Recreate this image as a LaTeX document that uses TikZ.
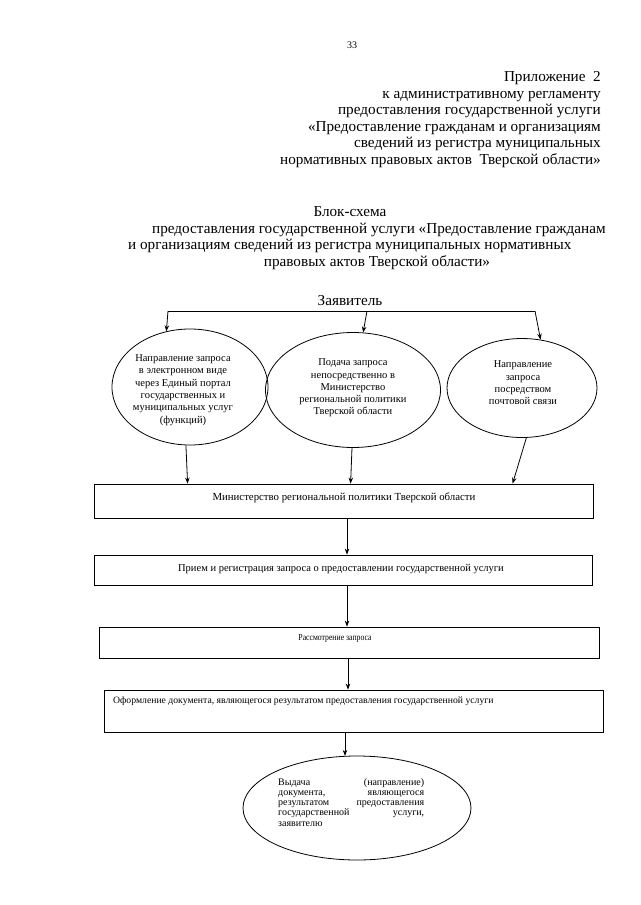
\documentclass[tikz,border=0pt]{standalone}
\usepackage{fontspec}
\usepackage{graphicx}
\setmainfont{Liberation Serif}
\usetikzlibrary{arrows.meta,shapes.geometric,calc}
\begin{document}
\begin{tikzpicture}[x=1pt,y=-1pt,
  hdr/.style={font=\fontsize{15.2}{16.6}\selectfont, inner sep=0pt},
  pagenum/.style={font=\fontsize{10}{12}\selectfont, inner sep=0pt},
  dtext/.style={font=\fontsize{10.5}{12.3}\selectfont, inner sep=0pt, align=center},
  btext/.style={font=\fontsize{10.5}{12.3}\selectfont, inner sep=0pt},
  oval/.style={draw, ellipse, inner sep=0pt, line width=0.8pt},
  stepbox/.style={draw, rectangle, inner sep=0pt, line width=0.8pt},
  conn/.style={line width=0.8pt},
  arr/.style={-{Stealth[length=6pt,width=4.5pt]}, line width=0.8pt}]
\fill[white] (0,0) rectangle (640,905);
\useasboundingbox (0,0) rectangle (640,905);

% page number and header
\node[pagenum, anchor=base] (pn) at (352,48) {33};
\node[hdr, anchor=base east] (h1) at (601,81) {Приложение~ 2};
\node[hdr, anchor=base east] (h2) at (601,98) {к административному регламенту};
\node[hdr, anchor=base east] (h3) at (601,114.5) {предоставления государственной услуги};
\node[hdr, anchor=base east] (h4) at (601,131) {«Предоставление гражданам и организациям};
\node[hdr, anchor=base east] (h5) at (601,147.5) {сведений из регистра муниципальных};
\node[hdr, anchor=base east] (h6) at (601,164.5) {нормативных правовых актов~ Тверской области»};

% title
\node[hdr, anchor=base] (t1) at (350,216) {Блок-схема};
\node[hdr, anchor=base west] (t2) at (152,233) {предоставления государственной услуги «Предоставление гражданам};
\node[hdr, anchor=base west] (t3) at (128,249) {и организациям сведений из регистра муниципальных нормативных};
\node[hdr, anchor=base] (t4) at (377,266) {правовых актов Тверской области»};

\node[hdr, anchor=base] (zv) at (350,305) {Заявитель};

% ellipses
\node[oval, minimum width=156pt, minimum height=116pt] (e1) at (190,387) {};
\node[oval, minimum width=175pt, minimum height=115pt] (e2) at (353,390) {};
\node[oval, minimum width=150pt, minimum height=99pt] (e3) at (522,388) {};

\node[dtext] (e1t) at (183,390) {Направление запроса\\в электронном виде\\через Единый портал\\государственных и\\муниципальных услуг\\(функций)};
\node[dtext] (e2t) at (353,388) {Подача запроса\\непосредственно в\\Министерство\\региональной политики\\Тверской области};
\node[dtext] (e3t) at (523,383) {Направление\\запроса\\посредством\\почтовой связи};

% boxes
\node[stepbox, minimum width=499pt, minimum height=34pt] (b1) at (343.5,501) {};
\node[stepbox, minimum width=498pt, minimum height=30pt] (b2) at (343,570) {};
\node[stepbox, minimum width=500pt, minimum height=31pt] (b3) at (349,642.5) {};
\node[stepbox, minimum width=499pt, minimum height=42pt] (b4) at (353.5,711) {};

\node[btext, anchor=base, font=\fontsize{10.8}{12.3}\selectfont] (b1t) at (344,500) {Министерство региональной политики Тверской области};
\node[btext, anchor=base] (b2t) at (341,571.5) {Прием и регистрация запроса о предоставлении государственной услуги};
\node[btext, anchor=base, font=\fontsize{9.2}{11}\selectfont] (b3t) at (335,640.5) {\scalebox{0.84}[1]{Рассмотрение запроса}};
\node[btext, anchor=base west, font=\fontsize{9.7}{12}\selectfont] (b4t) at (113,703) {Оформление документа, являющегося результатом предоставления государственной услуги};

% final ellipse
\node[oval, minimum width=228pt, minimum height=104pt] (e4) at (357,808) {};
\node[inner sep=0pt, anchor=north west, font=\fontsize{10}{10.25}\selectfont, align=left] (e4t) at (278,778) {%
\makebox[146pt][s]{Выдача (направление)}\\
\makebox[146pt][s]{документа, являющегося}\\
\makebox[146pt][s]{результатом предоставления}\\
\makebox[146pt][s]{государственной услуги,}\\
заявителю};

% connectors from applicant
\coordinate (jl) at (168,311);
\coordinate (jm) at (367,311);
\coordinate (jr) at (535,311);
\draw[conn] (jl) -- (jr);
\draw[arr] (jl) -- (e1.113);
\draw[arr] (jm) -- (e2.80);
\draw[arr] (jr) -- (e3.69);

% ellipses to first box
\draw[arr] (e1.266) -- ($(b1.north west)+(94,0)$);
\draw[arr] (e2.269) -- ($(b1.north west)+(257,0)$);
\draw[arr] (e3.275) -- ($(b1.north west)+(419,0)$);

% chain
\draw[arr] ($(b1.south)+(3.5,0)$) coordinate (s1) -- (s1 |- b2.north);
\draw[arr] ($(b2.south)+(4,0)$) coordinate (s2) -- (s2 |- b3.north);
\draw[arr] ($(b3.south)+(-1,0)$) coordinate (s3) -- (s3 |- b4.north);
\draw[arr] ($(b4.south)+(-8.5,0)$) coordinate (s4) -- ($(s4 |- e4.north)+(0,0.3)$);
\end{tikzpicture}
\end{document}
